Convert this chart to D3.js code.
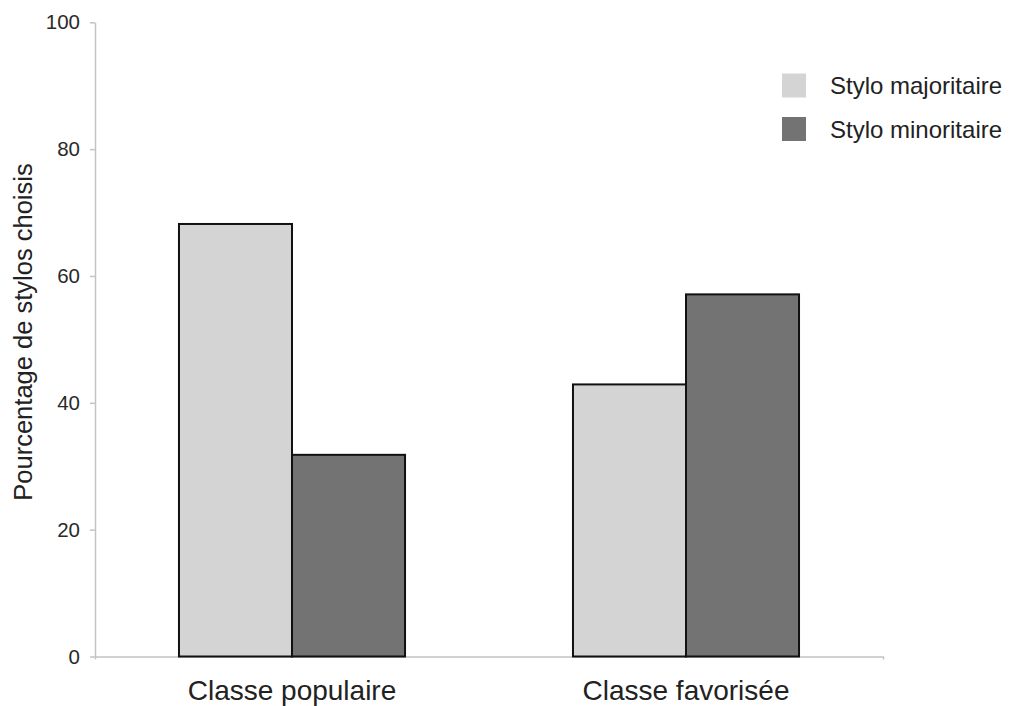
<!DOCTYPE html>
<html><head><meta charset="utf-8">
<script src="https://cdn.jsdelivr.net/npm/d3@7"></script>
<style>
body{margin:0;background:#fff;}
svg{display:block;font-family:"Liberation Sans",Arial,sans-serif;}
</style></head>
<body><svg id="c" width="1012" height="706"></svg>
<script>
const categories = ["Classe populaire", "Classe favorisée"];
const series = ["Stylo majoritaire", "Stylo minoritaire"];
const majoritaire = [68.2, 42.9];
const minoritaire = [31.8, 57.1];
const yTicks = [0, 20, 40, 60, 80, 100];
const colors = ["#d4d4d4", "#737373"];
const yTitle = "Pourcentage de stylos choisis";

const values = [majoritaire, minoritaire];
const svg = d3.select("#c");
const x0 = d3.scaleBand().domain(categories).range([95, 883]).paddingInner(0).paddingOuter(0);
const x1 = d3.scaleBand().domain(series).range([0, x0.bandwidth()]).paddingInner(0).paddingOuter(0.743);
const y = d3.scaleLinear().domain([0, 100]).range([656.5, 22.3]);

// y axis
const ya = svg.append("g").attr("transform", "translate(95,0)")
  .call(d3.axisLeft(y).tickValues(yTicks).tickSize(5).tickPadding(10).tickSizeOuter(0));
ya.select(".domain").attr("stroke", "#c4c4c4").attr("stroke-width", 1.5);
ya.selectAll(".tick line").attr("stroke", "#c4c4c4").attr("stroke-width", 1.5);
ya.selectAll(".tick text").attr("fill", "#2a2a2a").style("font-size", "20.5px").style("font-family", "Liberation Sans, Arial, sans-serif");

// x axis
const xa = svg.append("g").attr("transform", `translate(0,${y(0)})`)
  .call(d3.axisBottom(x0).tickSize(0).tickSizeOuter(3).tickPadding(0));
xa.select(".domain").attr("stroke", "#c4c4c4").attr("stroke-width", 1.5);
xa.selectAll(".tick text").remove();

// bars
categories.forEach((c, ci) => {
  series.forEach((s, si) => {
    const v = values[si][ci];
    svg.append("rect")
      .attr("x", x0(c) + x1(s))
      .attr("y", y(v))
      .attr("width", x1.bandwidth())
      .attr("height", y(0) - y(v))
      .attr("fill", colors[si])
      .attr("stroke", "#111")
      .attr("stroke-width", 2);
  });
});

// category labels
svg.selectAll(".cat").data(categories).enter().append("text")
  .attr("x", d => x0(d) + x0.bandwidth() / 2)
  .attr("y", 700)
  .attr("text-anchor", "middle")
  .attr("fill", "#222")
  .style("font-size", "28px")
  .text(d => d);

// y title
svg.append("text")
  .attr("transform", "translate(32,332) rotate(-90)")
  .attr("text-anchor", "middle")
  .attr("fill", "#222")
  .style("font-size", "25.5px")
  .text(yTitle);

// legend
const lg = svg.append("g");
series.forEach((s, i) => {
  lg.append("rect").attr("x", 782).attr("y", 73.5 + i * 43.5).attr("width", 24).attr("height", 24).attr("fill", colors[i]);
  lg.append("text").attr("x", 830).attr("y", 94 + i * 43.5).attr("fill", "#222").style("font-size", "24px").text(s);
});
</script></body></html>
